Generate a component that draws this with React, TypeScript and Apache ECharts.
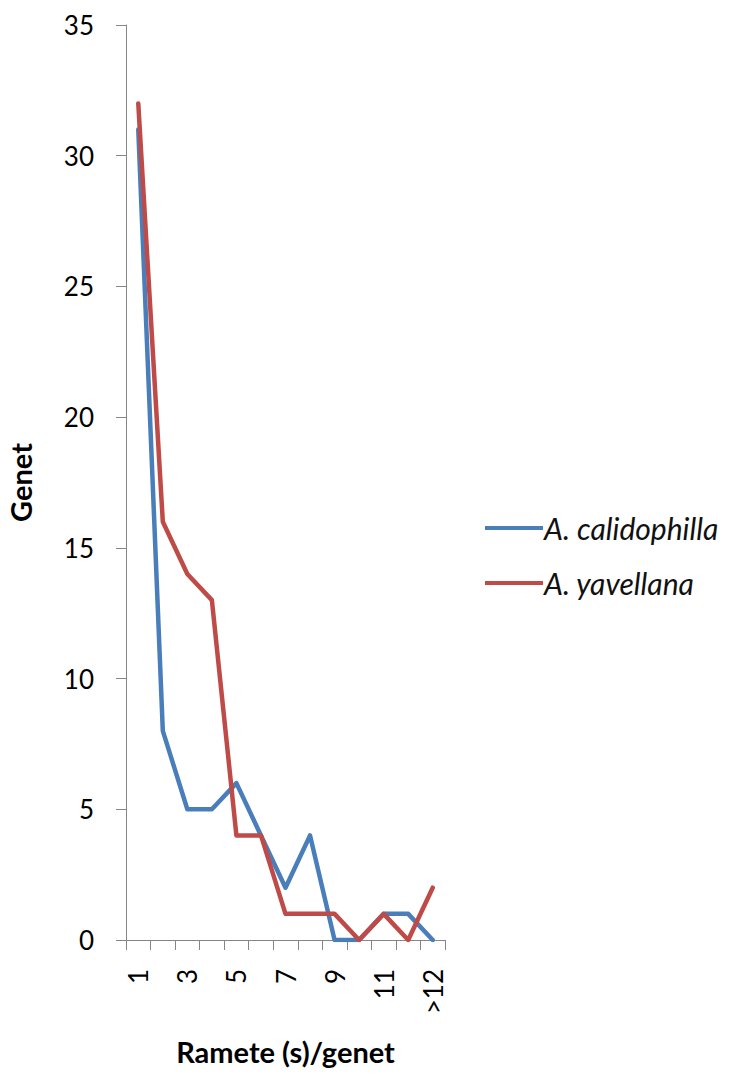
import React, { useEffect, useRef } from "react";
import * as echarts from "echarts";

const categories = ["1", "2", "3", "4", "5", "6", "7", "8", "9", "10", "11", "12", ">12"];
const calidophilla = [31, 8, 5, 5, 6, 4, 2, 4, 0, 0, 1, 1, 0];
const yavellana = [32, 16, 14, 13, 4, 4, 1, 1, 1, 0, 1, 0, 2];
const seriesNames = ["A. calidophilla", "A. yavellana"];
const xTitle = "Ramete (s)/genet";
const yTitle = "Genet";

const FONT = "Lato, 'Open Sans', sans-serif";

export default function App() {
  const ref = useRef<HTMLDivElement>(null);
  useEffect(() => {
    if (!ref.current) return;
    const chart = echarts.init(ref.current, null, { renderer: "svg" });
    const axisColor = "#868686";
    chart.setOption({
      animation: false,
      grid: { left: 126, right: 284, top: 25, bottom: 135, containLabel: false },
      legend: {
        orient: "vertical",
        left: 480,
        top: 508,
        icon: "rect",
        itemWidth: 58,
        itemHeight: 4,
        itemGap: 25,
        textStyle: { fontFamily: FONT, fontStyle: "italic", fontSize: 30, color: "#111", lineHeight: 30, padding: [0, 0, 0, -4] },
        data: seriesNames,
      },
      xAxis: {
        type: "category",
        data: categories,
        boundaryGap: true,
        name: xTitle,
        nameLocation: "middle",
        nameGap: 97,
        nameTextStyle: { fontFamily: FONT, fontWeight: "bold", fontSize: 29, color: "#000" },
        axisLine: { lineStyle: { color: axisColor, width: 1 } },
        axisTick: { show: true, length: 10, inside: false, alignWithLabel: false, interval: 0, lineStyle: { color: axisColor } },
        axisLabel: { interval: 1, rotate: 90, margin: 29, fontFamily: FONT, fontSize: 26, color: "#000" },
        splitLine: { show: false },
      },
      yAxis: {
        type: "value",
        min: 0,
        max: 35,
        interval: 5,
        name: yTitle,
        nameLocation: "middle",
        nameGap: 91,
        nameRotate: 90,
        nameTextStyle: { fontFamily: FONT, fontWeight: "bold", fontSize: 29, color: "#000" },
        axisLine: { show: true, lineStyle: { color: axisColor, width: 1 } },
        axisTick: { show: true, length: 10, lineStyle: { color: axisColor } },
        axisLabel: { margin: 32, fontFamily: FONT, fontSize: 26, color: "#000" },
        splitLine: { show: false },
      },
      series: [
        {
          name: seriesNames[0],
          type: "line",
          data: calidophilla,
          showSymbol: false,
          symbol: "none",
          lineStyle: { color: "#4A7EBB", width: 4.5, cap: "round", join: "round" },
          itemStyle: { color: "#4A7EBB" },
        },
        {
          name: seriesNames[1],
          type: "line",
          data: yavellana,
          showSymbol: false,
          symbol: "none",
          lineStyle: { color: "#BE4B48", width: 4.5, cap: "round", join: "round" },
          itemStyle: { color: "#BE4B48" },
        },
      ],
    });
    return () => chart.dispose();
  }, []);
  return <div ref={ref} style={{ width: 729, height: 1075, position: "absolute", left: 0, top: 0, background: "#fff" }} />;
}
